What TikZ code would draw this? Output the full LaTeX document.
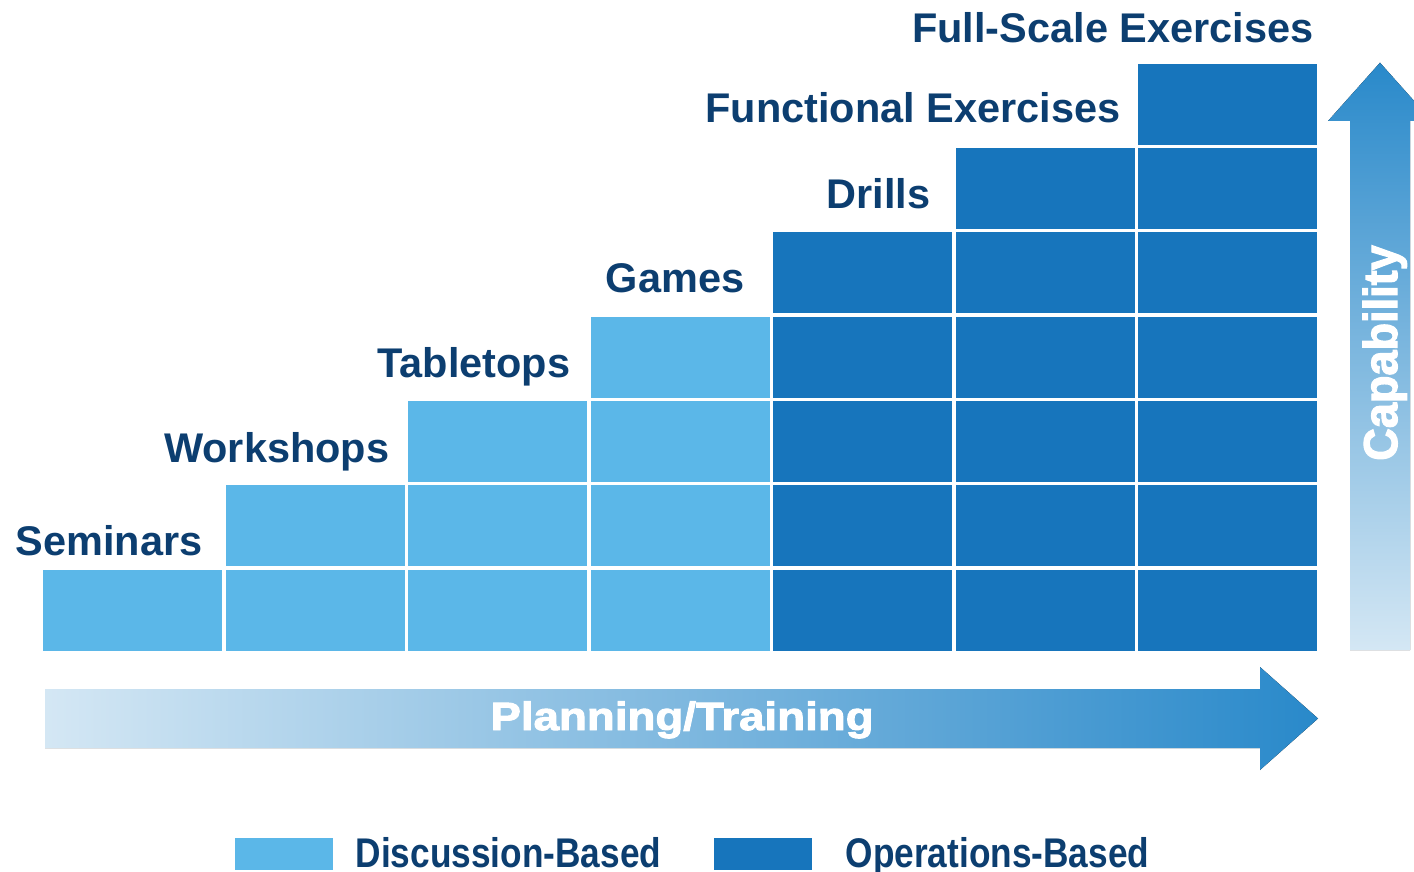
\documentclass[tikz,border=0pt]{standalone}
\usepackage{fontspec}
\setmainfont{Liberation Sans}
\newfontfamily\legendfont{Liberation Sans}[FakeStretch=0.85]
\newfontfamily\arrowfont{Liberation Sans}[FakeStretch=1.16,FakeBold=2.5]
\newfontfamily\capfont{Liberation Sans}[FakeStretch=0.95,FakeBold=2.5]
\usepackage{xcolor}
\usetikzlibrary{backgrounds}
\pgfdeclarelayer{edgelayer}
\pgfdeclarelayer{nodelayer}
\pgfsetlayers{nodelayer,main,edgelayer}

\definecolor{discblue}{RGB}{91,183,232}
\definecolor{operblue}{RGB}{23,117,188}
\definecolor{labelnavy}{RGB}{12,62,112}
\definecolor{arrowpale}{RGB}{212,231,244}
\definecolor{arrowdeep}{RGB}{41,137,202}

\tikzset{
	disc/.style={rectangle, fill=discblue, inner sep=0pt, minimum width=1.79cm, minimum height=0.81cm},
	oper/.style={disc, fill=operblue},
	levellabel/.style={anchor=base east, inner sep=0pt, text=labelnavy, font=\fontsize{11.8}{14}\selectfont\bfseries},
	legendbox/.style={rectangle, inner sep=0pt, minimum width=0.98cm, minimum height=0.32cm},
	legendlabel/.style={anchor=base west, inner sep=0pt, text=labelnavy, font=\legendfont\fontsize{11.8}{14}\selectfont\bfseries},
	arrowlabel/.style={anchor=base, inner sep=0pt, text=white, font=\arrowfont\fontsize{11.2}{14}\selectfont\bfseries},
	caplabel/.style={anchor=base, inner sep=0pt, text=white, rotate=90, font=\capfont\fontsize{13.5}{16}\selectfont\bfseries},
	corner/.style={inner sep=0pt, minimum size=0pt}
}

\begin{document}
\begin{tikzpicture}
	\useasboundingbox (0, 0) rectangle (14.14, 8.71);
	\begin{pgfonlayer}{nodelayer}
		% discussion-based steps
		\node [style=disc] (0) at (1.325, 2.61) {};
		\node [style=disc] (1) at (3.15, 2.61) {};
		\node [style=disc] (2) at (3.15, 3.453) {};
		\node [style=disc] (3) at (4.975, 2.61) {};
		\node [style=disc] (4) at (4.975, 3.453) {};
		\node [style=disc] (5) at (4.975, 4.296) {};
		\node [style=disc] (6) at (6.8, 2.61) {};
		\node [style=disc] (7) at (6.8, 3.453) {};
		\node [style=disc] (8) at (6.8, 4.296) {};
		\node [style=disc] (9) at (6.8, 5.139) {};
		% operations-based steps
		\node [style=oper] (10) at (8.625, 2.61) {};
		\node [style=oper] (11) at (8.625, 3.453) {};
		\node [style=oper] (12) at (8.625, 4.296) {};
		\node [style=oper] (13) at (8.625, 5.139) {};
		\node [style=oper] (14) at (8.625, 5.982) {};
		\node [style=oper] (15) at (10.45, 2.61) {};
		\node [style=oper] (16) at (10.45, 3.453) {};
		\node [style=oper] (17) at (10.45, 4.296) {};
		\node [style=oper] (18) at (10.45, 5.139) {};
		\node [style=oper] (19) at (10.45, 5.982) {};
		\node [style=oper] (20) at (10.45, 6.825) {};
		\node [style=oper] (21) at (12.275, 2.61) {};
		\node [style=oper] (22) at (12.275, 3.453) {};
		\node [style=oper] (23) at (12.275, 4.296) {};
		\node [style=oper] (24) at (12.275, 5.139) {};
		\node [style=oper] (25) at (12.275, 5.982) {};
		\node [style=oper] (26) at (12.275, 6.825) {};
		\node [style=oper] (27) at (12.275, 7.668) {};
		% step names
		\node [style=levellabel] (28) at (2.03, 3.16) {Seminars};
		\node [style=levellabel] (29) at (3.9, 4.09) {Workshops};
		\node [style=levellabel] (30) at (5.71, 4.94) {Tabletops};
		\node [style=levellabel] (31) at (7.45, 5.78) {Games};
		\node [style=levellabel] (32) at (9.31, 6.63) {Drills};
		\node [style=levellabel] (33) at (11.21, 7.48) {Functional Exercises};
		\node [style=levellabel] (34) at (13.14, 8.285) {Full-Scale Exercises};
		% arrow corners
		\node [style=corner] (35) at (0.45, 1.82) {};
		\node [style=corner] (36) at (12.6, 1.82) {};
		\node [style=corner] (37) at (12.6, 2.04) {};
		\node [style=corner] (38) at (13.18, 1.525) {};
		\node [style=corner] (39) at (12.6, 1.01) {};
		\node [style=corner] (40) at (12.6, 1.23) {};
		\node [style=corner] (41) at (0.45, 1.23) {};
		\node [style=corner] (42) at (13.5, 2.21) {};
		\node [style=corner] (43) at (13.5, 7.5) {};
		\node [style=corner] (44) at (13.28, 7.5) {};
		\node [style=corner] (45) at (13.8, 8.083) {};
		\node [style=corner] (46) at (14.32, 7.5) {};
		\node [style=corner] (47) at (14.1, 7.5) {};
		\node [style=corner] (48) at (14.1, 2.21) {};
		% legend
		\node [style=legendbox, fill=discblue] (51) at (2.84, 0.17) {};
		\node [style=legendlabel] (52) at (3.55, 0.04) {Discussion-Based};
		\node [style=legendbox, fill=operblue] (53) at (7.63, 0.17) {};
		\node [style=legendlabel] (54) at (8.45, 0.04) {Operations-Based};
	\end{pgfonlayer}
	\begin{pgfonlayer}{edgelayer}
		\fill [left color=arrowpale, right color=arrowdeep] (35.center) to (36.center) to (37.center) to (38.center) to (39.center) to (40.center) to (41.center) -- cycle;
		\begin{scope}
			\clip (0, 0) rectangle (14.14, 8.71);
			\fill [bottom color=arrowpale, top color=arrowdeep] (42.center) to (43.center) to (44.center) to (45.center) to (46.center) to (47.center) to (48.center) -- cycle;
		\end{scope}
		\node [style=arrowlabel] (49) at (6.82, 1.41) {Planning/Training};
		\node [style=caplabel] (50) at (13.97, 5.18) {Capability};
	\end{pgfonlayer}
\end{tikzpicture}
\end{document}
